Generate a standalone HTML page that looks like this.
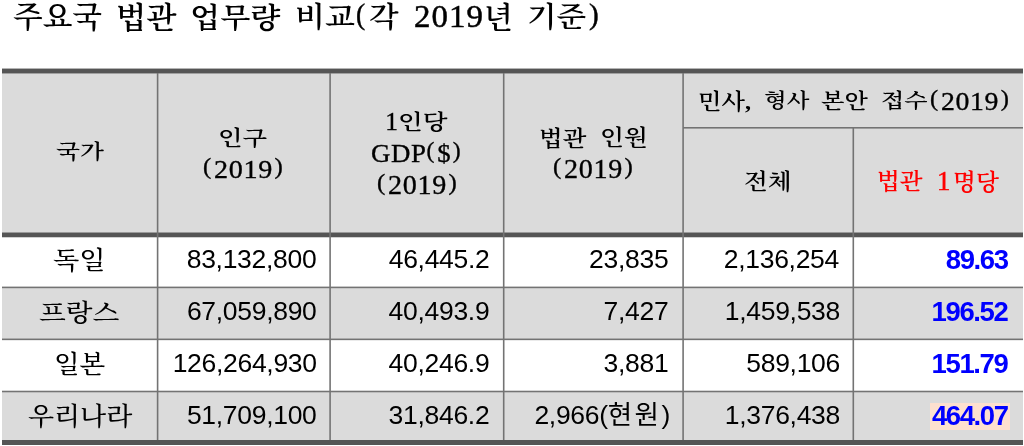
<!DOCTYPE html>
<html lang="ko">
<head>
<meta charset="utf-8">
<title>주요국 법관 업무량 비교</title>
<style>
html,body{margin:0;padding:0;background:#fff;}
body{width:1024px;height:446px;position:relative;overflow:hidden;}
.a{position:absolute;}
.bg{background:#dbdbdb;}
.thick{background:#555;}
.ln{background:#737373;}
.t{position:absolute;white-space:nowrap;line-height:1;transform-origin:0 0;color:#000;}
.ser{font-family:"Liberation Serif","Noto Serif CJK KR","Noto Serif CJK SC",serif;}
.b{font-weight:700;}
.sb{font-weight:600;}
.kr{letter-spacing:2.5px;}
.st{-webkit-text-stroke-width:0.35px;}
.st2{-webkit-text-stroke-width:0.5px;}
.p{font-size:0.88em;position:relative;top:-0.155em;}
.p:first-child{margin-right:2px;}
.p:last-child{margin-left:1.5px;}
.san{font-family:"Liberation Sans","Noto Sans CJK KR","Noto Sans CJK SC",sans-serif;}
.blu{color:#0000ff;font-weight:700;}
.red{color:#ff0000;}
.L{font-size:1.1em;}
.m{font-weight:500;}
.hi{background:#fde0cf;}
</style>
</head>
<body>
<!-- backgrounds -->
<div class="a bg" style="left:2px;top:73px;width:1021px;height:160px;"></div>
<div class="a bg" style="left:2px;top:288px;width:1021px;height:51px;"></div>
<div class="a bg" style="left:2px;top:392px;width:1021px;height:48px;"></div>

<!-- horizontal lines -->
<div class="a" style="left:2px;top:68px;width:1021px;height:1px;background:#b4b4b4;"></div>
<div class="a thick" style="left:2px;top:69px;width:1021px;height:4px;"></div>
<div class="a" style="left:2px;top:73px;width:1021px;height:1px;background:#a0a0a0;"></div>
<div class="a" style="left:2px;top:232px;width:1021px;height:1px;background:#9a9a9a;"></div>
<div class="a thick" style="left:2px;top:233px;width:1021px;height:4px;"></div>
<div class="a" style="left:2px;top:237px;width:1021px;height:1px;background:#d0d0d0;"></div>
<div class="a thick" style="left:2px;top:440px;width:1021px;height:5px;"></div>

<!-- grid lines -->
<div class="a ln" style="left:683px;top:127px;width:340px;height:1px;opacity:1.0;"></div>
<div class="a ln" style="left:683px;top:128px;width:340px;height:1px;opacity:0.6;"></div>
<div class="a ln" style="left:2px;top:286px;width:1021px;height:1px;opacity:0.4;"></div>
<div class="a ln" style="left:2px;top:287px;width:1021px;height:1px;opacity:1;"></div>
<div class="a ln" style="left:2px;top:288px;width:1021px;height:1px;opacity:0.2;"></div>
<div class="a ln" style="left:2px;top:338px;width:1021px;height:1px;opacity:0.45;"></div>
<div class="a ln" style="left:2px;top:339px;width:1021px;height:1px;opacity:1;"></div>
<div class="a ln" style="left:2px;top:340px;width:1021px;height:1px;opacity:0.15;"></div>
<div class="a ln" style="left:2px;top:390px;width:1021px;height:1px;opacity:0.3;"></div>
<div class="a ln" style="left:2px;top:391px;width:1021px;height:1px;opacity:1;"></div>
<div class="a ln" style="left:2px;top:392px;width:1021px;height:1px;opacity:0.3;"></div>
<div class="a ln" style="left:156px;top:73px;width:1px;height:367px;opacity:0.2;"></div>
<div class="a ln" style="left:157px;top:73px;width:1px;height:367px;opacity:1;"></div>
<div class="a ln" style="left:158px;top:73px;width:1px;height:367px;opacity:0.4;"></div>
<div class="a ln" style="left:329px;top:73px;width:1px;height:367px;opacity:0.7;"></div>
<div class="a ln" style="left:330px;top:73px;width:1px;height:367px;opacity:0.9;"></div>
<div class="a ln" style="left:502px;top:73px;width:1px;height:367px;opacity:0.1;"></div>
<div class="a ln" style="left:503px;top:73px;width:1px;height:367px;opacity:1;"></div>
<div class="a ln" style="left:504px;top:73px;width:1px;height:367px;opacity:0.5;"></div>
<div class="a ln" style="left:682px;top:73px;width:1px;height:367px;opacity:0.7;"></div>
<div class="a ln" style="left:683px;top:73px;width:1px;height:367px;opacity:0.9;"></div>
<div class="a ln" style="left:852px;top:128px;width:1px;height:312px;opacity:0.5;"></div>
<div class="a ln" style="left:853px;top:128px;width:1px;height:312px;opacity:1;"></div>
<div class="a ln" style="left:854px;top:128px;width:1px;height:312px;opacity:0.1;"></div>

<!-- highlight behind 464.07 -->
<div class="a hi" style="left:930px;top:403px;width:80px;height:27px;"></div>

<div class="t ser sb" style="left:13.29px;top:2.58px;font-size:30.5px;transform:scale(1.0069,0.9766);">주요국</div>
<div class="t ser sb" style="left:115.64px;top:3.92px;font-size:30.5px;transform:scale(1.0283,0.9660);">법관</div>
<div class="t ser sb" style="left:189.83px;top:4.76px;font-size:30.5px;transform:scale(1.0235,0.9238);">업무량</div>
<div class="t ser sb" style="left:294.96px;top:4.08px;font-size:30.5px;transform:scale(1.0175,0.9198);">비교</div>
<div class="t ser st2" style="left:355.87px;top:0.35px;font-size:30.5px;transform:scale(0.9022,0.9510);">(</div>
<div class="t ser sb" style="left:368.61px;top:4.22px;font-size:30.5px;transform:scale(1.0042,0.9231);">각</div>
<div class="t ser st2" style="left:414.38px;top:1.48px;font-size:32px;transform:scale(1.0275,0.9700);letter-spacing:1.0px;">2019</div>
<div class="t ser sb" style="left:483.85px;top:3.56px;font-size:30.5px;transform:scale(0.9776,0.9669);">년</div>
<div class="t ser sb" style="left:526.99px;top:4.04px;font-size:30.5px;transform:scale(1.0039,0.9163);">기준</div>
<div class="t ser st2" style="left:588.65px;top:-0.20px;font-size:30.5px;transform:scale(0.9543,0.9540);">)</div>
<div class="t ser sb" style="left:56.38px;top:142.19px;font-size:24px;transform:scale(1.0309,0.8559);">국가</div>
<div class="t ser sb" style="left:218.40px;top:127.95px;font-size:24px;transform:scale(1.0584,0.8687);">인구</div>
<div class="t ser st" style="left:203.34px;top:156.88px;font-size:26px;transform:scale(1.0824,1.0000);letter-spacing:0.6px;"><span class="p">(</span>2019<span class="p">)</span></div>
<div class="t ser st" style="left:385.19px;top:108.83px;font-size:25.432px;">1</div>
<div class="t ser sb" style="left:397.76px;top:111.62px;font-size:24px;transform:scale(1.0669,0.8714);">인당</div>
<div class="t ser st" style="left:370.99px;top:140.73px;font-size:26px;transform:scale(1.0326,0.9835);letter-spacing:0.6px;">GDP<span class="p">(</span>$<span class="p">)</span></div>
<div class="t ser st" style="left:377.34px;top:172.07px;font-size:26px;transform:scale(1.0825,1.0510);letter-spacing:0.6px;"><span class="p">(</span>2019<span class="p">)</span></div>
<div class="t ser sb" style="left:539.21px;top:128.31px;font-size:24px;transform:scale(1.0196,0.9207);">법관</div>
<div class="t ser sb" style="left:599.54px;top:127.27px;font-size:24px;transform:scale(1.0339,0.8930);">인원</div>
<div class="t ser st" style="left:553.34px;top:156.07px;font-size:26px;transform:scale(1.0825,1.0510);letter-spacing:0.6px;"><span class="p">(</span>2019<span class="p">)</span></div>
<div class="t ser sb" style="left:697.98px;top:91.00px;font-size:24px;transform:scale(1.0125,0.8891);">민사,</div>
<div class="t ser sb" style="left:764.02px;top:90.94px;font-size:24px;transform:scale(0.9783,0.8400);">형사</div>
<div class="t ser sb" style="left:821.00px;top:89.98px;font-size:24px;transform:scale(1.0108,0.8750);">본안</div>
<div class="t ser sb" style="left:881.20px;top:90.90px;font-size:24px;transform:scale(1.0048,0.8374);">접수</div>
<div class="t ser st" style="left:929.96px;top:89.39px;font-size:26px;transform:scale(1.0686,1.0036);letter-spacing:0.6px;"><span class="p">(</span>2019<span class="p">)</span></div>
<div class="t ser sb" style="left:744.46px;top:170.98px;font-size:24px;transform:scale(1.0282,0.8773);">전체</div>
<div class="t ser sb red" style="left:876.51px;top:170.98px;font-size:24px;transform:scale(0.9828,0.9248);">법관</div>
<div class="t ser st red" style="left:936.74px;top:167.11px;font-size:27.52px;">1</div>
<div class="t ser sb red" style="left:952.61px;top:170.82px;font-size:24px;transform:scale(0.9892,0.9384);">명당</div>
<div class="t ser m" style="left:52.76px;top:248.58px;font-size:27px;transform:scale(1.0072,0.9149);">독일</div>
<div class="t ser m" style="left:38.86px;top:301.53px;font-size:27px;transform:scale(1.0261,0.8829);">프랑스</div>
<div class="t ser m" style="left:53.65px;top:352.27px;font-size:27px;transform:scale(0.9823,0.9408);">일본</div>
<div class="t ser m" style="left:27.99px;top:404.58px;font-size:27px;transform:scale(0.9992,0.9286);">우리나라</div>
<div class="t san" style="right:707.67px;top:246.22px;font-size:26.5px;letter-spacing:-0.3px;">83,132,800</div>
<div class="t san" style="right:534.55px;top:245.92px;font-size:26.5px;letter-spacing:-0.3px;">46,445.2</div>
<div class="t san" style="right:355.64px;top:245.92px;font-size:26.5px;letter-spacing:-0.3px;">23,835</div>
<div class="t san" style="right:185.05px;top:245.92px;font-size:26.5px;letter-spacing:-0.3px;">2,136,254</div>
<div class="t san blu" style="right:16.42px;top:245.82px;font-size:27.5px;letter-spacing:-1.4px;">89.63</div>
<div class="t san" style="right:707.47px;top:298.02px;font-size:26.5px;letter-spacing:-0.3px;">67,059,890</div>
<div class="t san" style="right:534.64px;top:298.02px;font-size:26.5px;letter-spacing:-0.3px;">40,493.9</div>
<div class="t san" style="right:355.62px;top:298.02px;font-size:26.5px;letter-spacing:-0.3px;">7,427</div>
<div class="t san" style="right:184.05px;top:298.02px;font-size:26.5px;letter-spacing:-0.3px;">1,459,538</div>
<div class="t san blu" style="right:16.69px;top:297.72px;font-size:27.5px;letter-spacing:-1.4px;">196.52</div>
<div class="t san" style="right:707.28px;top:349.82px;font-size:26.5px;letter-spacing:-0.3px;">126,264,930</div>
<div class="t san" style="right:534.64px;top:349.82px;font-size:26.5px;letter-spacing:-0.3px;">40,246.9</div>
<div class="t san" style="right:355.62px;top:349.82px;font-size:26.5px;letter-spacing:-0.3px;">3,881</div>
<div class="t san" style="right:184.05px;top:349.82px;font-size:26.5px;letter-spacing:-0.3px;">589,106</div>
<div class="t san blu" style="right:16.69px;top:349.82px;font-size:27.5px;letter-spacing:-1.4px;">151.79</div>
<div class="t san" style="right:707.47px;top:401.62px;font-size:26.5px;letter-spacing:-0.3px;">51,709,100</div>
<div class="t san" style="right:534.64px;top:401.62px;font-size:26.5px;letter-spacing:-0.3px;">31,846.2</div>
<div class="t san" style="right:353.97px;top:402.22px;font-size:26.5px;letter-spacing:-0.3px;">2,966(<span class="kr">현원</span>)</div>
<div class="t san" style="right:184.05px;top:401.62px;font-size:26.5px;letter-spacing:-0.3px;">1,376,438</div>
<div class="t san blu" style="right:16.39px;top:402.22px;font-size:27.5px;letter-spacing:-1.4px;">464.07</div>
</body>
</html>
